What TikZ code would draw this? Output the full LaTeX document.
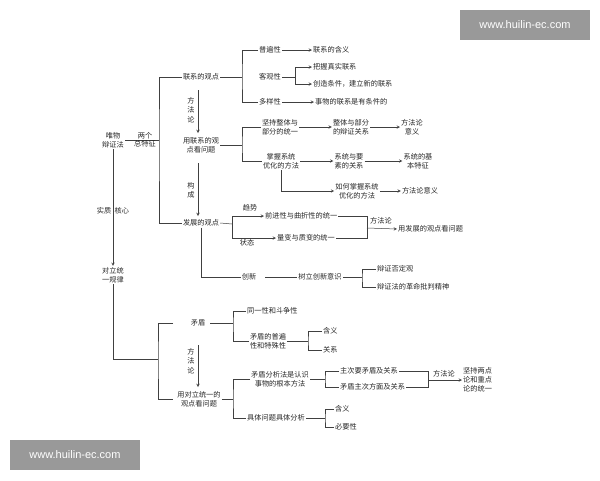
\documentclass[tikz,border=0pt]{standalone}
\usepackage{fontspec}
\newfontfamily\cjk{Noto Sans CJK SC}
\usetikzlibrary{positioning}

\tikzset{
  txt/.style={inner sep=1pt, align=center, font=\cjk\fontsize{7.2}{9.2}\selectfont, text=black!85},
  lbl/.style={inner sep=0.5pt, align=center, font=\cjk\fontsize{7.2}{9.2}\selectfont, text=black!85},
  ln/.style={draw=black!75, line width=0.5pt},
  arr/.style={ln, ->, >=stealth},
  wmark/.style={fill=black!40, inner sep=0pt, minimum width=130pt, minimum height=30pt, text=white, font=\fontspec{Liberation Sans}\fontsize{11}{13}\selectfont}
}

\begin{document}
\begin{tikzpicture}[x=1pt,y=-1pt]
  \useasboundingbox (0,0) rectangle (600,480);
  \node [wmark] (wmA) at (525,25) {www.huilin-ec.com};
  \node [wmark] (wmB) at (75,455) {www.huilin-ec.com};

  % left trunk
  \node [txt] (wuwu) at (113,140) {唯物\\辩证法};
  \node [txt] (duili) at (113,275) {对立统\\一规律};
  \coordinate (jM) at (159,140);
  \draw [ln] (wuwu.east) -- (jM);
  \node [lbl, above] (liangge) at (145,140) {两个};
  \node [lbl, below] (tezheng) at (145,140) {总特征};
  \draw [arr] (wuwu.south) -- (duili.north);
  \node [lbl, left] (shizhi) at (112,211) {实质};
  \node [lbl, right] (hexin) at (114,211) {核心};

  % connection viewpoint
  \node [txt] (lianxi) at (201,77) {联系的观点};
  \node [txt] (yonglx) at (201,145) {用联系的观\\点看问题};
  \node [txt] (fazhan) at (201,223) {发展的观点};
  \draw [ln] (lianxi.west) -| (jM) |- (fazhan.west);
  \draw [arr] (198,90) -- (198,133);
  \node [lbl] (ffA) at (191,110) {方\\法\\论};
  \draw [arr] (198,163) -- (198,216);
  \node [lbl] (goucheng) at (191,190) {构\\成};

  \node [txt] (pubian) at (270,50) {普遍性};
  \node [txt] (keguan) at (270,77) {客观性};
  \node [txt] (duoyang) at (270,102) {多样性};
  \coordinate (jA) at (242,77);
  \draw [ln] (lianxi.east) -- (jA);
  \draw [ln] (pubian.west) -| (jA) |- (duoyang.west);
  \node [txt, anchor=west] (hanyiA) at (312,50) {联系的含义};
  \node [txt, anchor=west] (bawo) at (312,67) {把握真实联系};
  \node [txt, anchor=west] (chuangzao) at (312,84) {创造条件，建立新的联系};
  \node [txt, anchor=west] (tiaojian) at (314,102) {事物的联系是有条件的};
  \draw [arr] (pubian.east) -- (hanyiA.west);
  \draw [arr] (duoyang.east) -- (tiaojian.west);
  \coordinate (jB) at (295,77);
  \draw [ln] (keguan.east) -- (jB);
  \draw [arr] (jB) |- (bawo.west);
  \draw [arr] (jB) |- (chuangzao.west);

  \node [txt] (jianchi) at (280,127) {坚持整体与\\部分的统一};
  \node [txt] (zhangwo) at (281,161) {掌握系统\\优化的方法};
  \coordinate (jC) at (242,145);
  \draw [ln] (yonglx.east) -- (jC);
  \draw [ln] (jianchi.west) -| (jC) |- (zhangwo.west);
  \node [txt] (zhengti) at (351,127) {整体与部分\\的辩证关系};
  \node [txt] (yiyiA) at (412,127) {方法论\\意义};
  \node [txt] (xitong) at (349,161) {系统与要\\素的关系};
  \node [txt] (tezhengB) at (418,161) {系统的基\\本特征};
  \node [txt] (ruhe) at (357,191) {如何掌握系统\\优化的方法};
  \node [txt] (yiyiB) at (420,191) {方法论意义};
  \draw [arr] (jianchi.east) -- (zhengti.west);
  \draw [arr] (zhengti.east) -- (yiyiA.west);
  \draw [arr] (zhangwo.east) -- (xitong.west);
  \draw [arr] (xitong.east) -- (tezhengB.west);
  \draw [arr] (zhangwo.south) |- (ruhe.west);
  \draw [arr] (ruhe.east) -- (yiyiB.west);

  % development viewpoint
  \node [txt, anchor=west] (qianjin) at (264,216) {前进性与曲折性的统一};
  \node [txt, anchor=west] (liangbian) at (276,238) {量变与质变的统一};
  \coordinate (jD) at (232,224);
  \draw [ln] (fazhan.east) -- (jD);
  \draw [arr] (jD) |- (qianjin.west);
  \draw [arr] (jD) |- (liangbian.west);
  \node [lbl] (qushi) at (250,208) {趋势};
  \node [lbl] (zhuangtai) at (247,243) {状态};
  \coordinate (jE) at (367,228);
  \draw [ln] (qianjin.east) -| (jE);
  \draw [ln] (liangbian.east) -| (jE);
  \node [txt, anchor=west] (yongfz) at (397,229) {用发展的观点看问题};
  \draw [arr] (jE) -- (yongfz.west);
  \node [lbl] (ffB) at (381,221) {方法论};

  \node [txt] (chuangxin) at (249,277) {创新};
  \draw [ln] (fazhan.south) |- (chuangxin.west);
  \node [txt] (shuli) at (320,277) {树立创新意识};
  \draw [ln] (chuangxin.east) ++(8,0) -- (shuli.west);
  \node [txt, anchor=west] (fouding) at (376,269) {辩证否定观};
  \node [txt, anchor=west] (pipan) at (376,287) {辩证法的革命批判精神};
  \coordinate (jF) at (362,277);
  \draw [ln] (shuli.east) -- (jF);
  \draw [ln] (fouding.west) -| (jF) |- (pipan.west);

  % unity of opposites
  \node [txt] (maodun) at (198,323) {矛盾};
  \node [txt] (yongdl) at (199,399) {用对立统一的\\观点看问题};
  \coordinate (jG) at (158,359);
  \draw [ln] (duili.south) |- (jG);
  \draw [ln] (173,323) -| (jG) |- (173,399);
  \draw [arr] (198,345) -- (198,387);
  \node [lbl] (ffC) at (191,361) {方\\法\\论};

  \node [txt, anchor=west] (tongyi) at (246,311) {同一性和斗争性};
  \node [txt] (pubianB) at (268,341) {矛盾的普遍\\性和特殊性};
  \coordinate (jH) at (233,323);
  \draw [ln] (maodun.east) ++(4,0) -- (jH);
  \draw [ln] (tongyi.west) -| (jH) |- (pubianB.west);
  \node [txt, anchor=west] (hanyiB) at (322,331) {含义};
  \node [txt, anchor=west] (guanxi) at (322,350) {关系};
  \coordinate (jI) at (308,341);
  \draw [ln] (pubianB.east) -- (jI);
  \draw [ln] (hanyiB.west) -| (jI) |- (guanxi.west);

  \node [txt] (fenxi) at (280,379) {矛盾分析法是认识\\事物的根本方法};
  \node [txt, anchor=west] (juti) at (246,418) {具体问题具体分析};
  \coordinate (jJ) at (233,399);
  \draw [ln] (yongdl.east) -- (jJ);
  \draw [ln] (fenxi.west) -| (jJ) |- (juti.west);
  \node [txt, anchor=west] (zhuci) at (339,371) {主次要矛盾及关系};
  \node [txt, anchor=west] (fangmian) at (339,387) {矛盾主次方面及关系};
  \coordinate (jK) at (325,379);
  \draw [ln] (fenxi.east) -- (jK);
  \draw [ln] (zhuci.west) -| (jK) |- (fangmian.west);
  \coordinate (jL) at (428,380);
  \draw [ln] (zhuci.east) -| (jL);
  \draw [ln] (fangmian.east) -| (jL);
  \node [txt, anchor=west] (liangdian) at (462,380) {坚持两点\\论和重点\\论的统一};
  \draw [arr] (jL) -- (liangdian.west);
  \node [lbl] (ffD) at (444,374) {方法论};
  \node [txt, anchor=west] (hanyiC) at (334,409) {含义};
  \node [txt, anchor=west] (biyao) at (334,427) {必要性};
  \coordinate (jN) at (325,418);
  \draw [ln] (juti.east) -- (jN);
  \draw [ln] (hanyiC.west) -| (jN) |- (biyao.west);
\end{tikzpicture}
\end{document}
